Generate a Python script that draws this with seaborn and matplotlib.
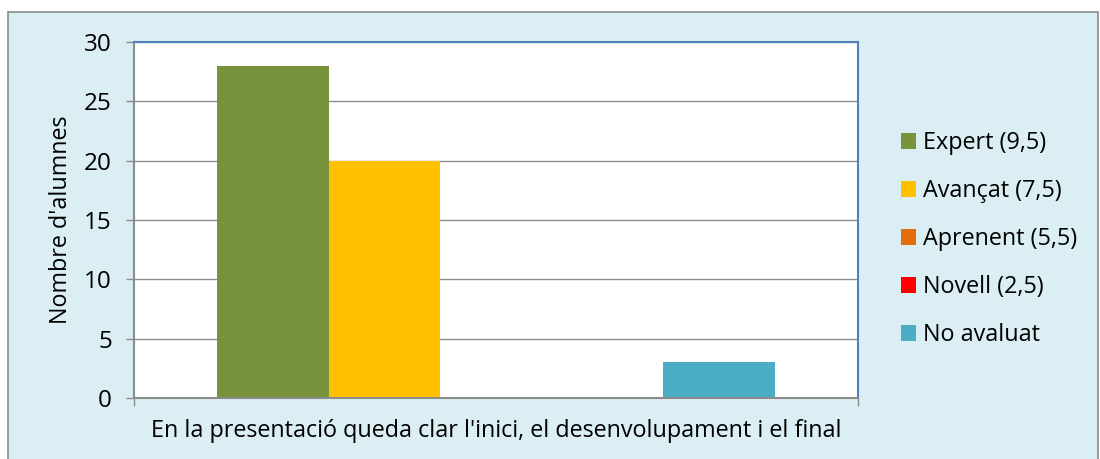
import matplotlib
matplotlib.use("Agg")
import matplotlib.pyplot as plt
import matplotlib.patches as mpatches
import seaborn as sns
import pandas as pd

categories = ["En la presentació queda clar l'inici, el desenvolupament i el final"]
levels = ["Expert (9,5)", "Avançat (7,5)", "Aprenent (5,5)", "Novell (2,5)", "No avaluat"]
values = [28, 20, 0, 0, 3]
colors = ["#77933C", "#FFC000", "#E46C0A", "#FF0000", "#4BACC6"]
y_ticks = [0, 5, 10, 15, 20, 25, 30]

sns.set_theme(style="white")
plt.rcParams['font.family'] = ['Open Sans', 'DejaVu Sans']
plt.rcParams['text.color'] = 'black'
plt.rcParams['axes.labelcolor'] = 'black'
plt.rcParams['xtick.labelcolor'] = 'black'
plt.rcParams['ytick.labelcolor'] = 'black'

df = pd.DataFrame({"cat": categories * len(levels), "level": levels, "value": values})

fig = plt.figure(figsize=(11, 4.59), dpi=100, facecolor="white")
fig.patches.append(mpatches.Rectangle((8/1100, -0.05), 1090/1100, 1 - 12/459 + 0.05,
                                      transform=fig.transFigure, facecolor="#DAEEF3",
                                      edgecolor="#8C8C8C", linewidth=1.2, zorder=-10))
ax = fig.add_axes([134/1100, 1 - 398/459, (858-134)/1100, (398-42)/459])
ax.set_zorder(1)
ax.set_facecolor("white")

sns.barplot(data=df, x="cat", y="value", hue="level", hue_order=levels,
            palette=colors, width=0.77, saturation=1, linewidth=0, ax=ax, legend=True)

ax.set_xlim(-0.5, 0.5)
ax.set_ylim(0, 30)
ax.set_yticks(y_ticks)
ax.set_yticklabels([str(t) for t in y_ticks], fontsize=17.5, color="black")
ax.grid(axis="y", color="#8C8C8C", linewidth=1)
ax.set_axisbelow(True)
ax.tick_params(axis="y", direction="out", length=6, width=1, color="#8C8C8C", left=True, pad=10,
               labelcolor="black")
ax.tick_params(axis="x", length=0, labelsize=16.8, pad=15, labelcolor="black")
ax.set_xticks([-0.5, 0.5], minor=True)
ax.tick_params(axis="x", which="minor", direction="out", length=6, width=1, color="#8C8C8C", bottom=True)
ax.set_xlabel("")
ax.set_ylabel("Nombre d'alumnes", fontsize=16.8, labelpad=8, color="black")

for s in ["left", "bottom"]:
    ax.spines[s].set_color("#8C8C8C")
    ax.spines[s].set_linewidth(1.5)
for s in ["top", "right"]:
    ax.spines[s].set_color("#4F81BD")
    ax.spines[s].set_linewidth(1.5)
    ax.spines[s].set_visible(True)

handles = [mpatches.Patch(facecolor=c, edgecolor="none") for c in colors]
leg = ax.legend(handles, levels, loc="center left", bbox_to_anchor=(901/1100, 1 - 239/459),
                bbox_transform=fig.transFigure, frameon=False, fontsize=16.8,
                borderpad=0, borderaxespad=0,
                handlelength=0.65, handleheight=0.65, handletextpad=0.3, labelspacing=1.03)
for t in leg.get_texts():
    t.set_color("black")

fig.savefig("out.png", dpi=100, facecolor="white")
